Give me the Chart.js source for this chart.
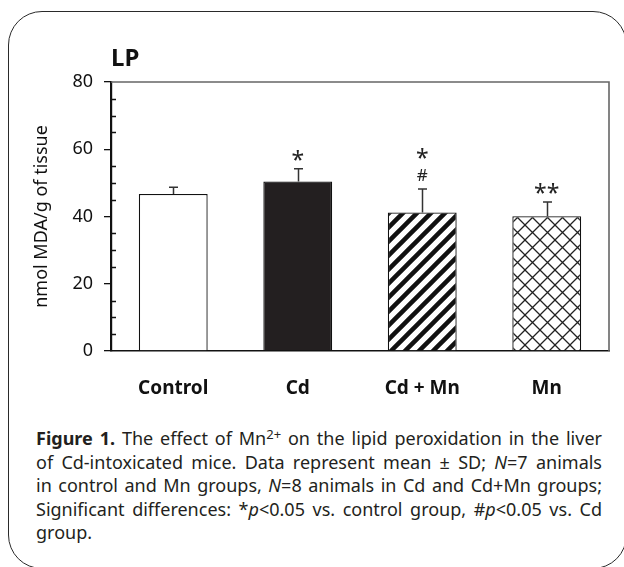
<!DOCTYPE html>
<html lang="en">
<head>
    <meta charset="UTF-8">
    <title>LP - lipid peroxidation</title>
    <script src="https://cdn.jsdelivr.net/npm/chart.js"></script>
    <style>
        body {
            margin: 0;
            width: 624px;
            height: 567px;
            overflow: hidden;
            background: #fff;
            position: relative;
        }
        .frame {
            position: absolute;
            left: 8px;
            top: 11px;
            right: -3px;
            bottom: -2px;
            border: 1.4px solid #2a2a2a;
            border-radius: 34px;
        }
        .chart-box {
            position: absolute;
            left: 0;
            top: 0;
            width: 624px;
            height: 420px;
        }
        .caption {
            position: absolute;
            left: 36px;
            top: 427px;
            width: 566px;
            font-family: 'Noto Sans', sans-serif;
            font-size: 18px;
            line-height: 23.6px;
            color: #231f20;
        }
        .caption div {
            text-align: justify;
            text-align-last: justify;
        }
        .caption div.last {
            text-align-last: left;
        }
        .caption sup {
            font-size: 13px;
            line-height: 0;
            vertical-align: 6px;
        }
    </style>
</head>
<body>
    <div class="frame"></div>
    <div class="chart-box">
        <canvas id="lpChart"></canvas>
    </div>
    <div class="caption">
        <div><b>Figure 1.</b> The effect of Mn<sup>2+</sup> on the lipid peroxidation in the liver</div>
        <div>of Cd-intoxicated mice. Data represent mean &plusmn; SD; <i>N</i>=7 animals</div>
        <div>in control and Mn groups, <i>N</i>=8 animals in Cd and Cd+Mn groups;</div>
        <div>Significant differences: *<i>p</i>&lt;0.05 vs. control group, #<i>p</i>&lt;0.05 vs. Cd</div>
        <div class="last">group.</div>
    </div>

    <script>
        // Data
        const groups = ['Control', 'Cd', 'Cd + Mn', 'Mn'];
        const meanMDA = [46.7, 50.4, 41.2, 40.1];
        const sdMDA = [2.0, 3.8, 7.0, 4.2];
        const starMarks = ['', '*', '*', '**'];
        const hashMarks = ['', '', '#', ''];
        const yTicks = [0, 20, 40, 60, 80];
        const chartTitle = 'LP';
        const yTitle = 'nmol MDA/g of tissue';

        // fill patterns
        function stripePattern() {
            const s = 14;
            const c = document.createElement('canvas');
            c.width = s; c.height = s;
            const g = c.getContext('2d');
            g.fillStyle = '#fff';
            g.fillRect(0, 0, s, s);
            g.strokeStyle = '#111';
            g.lineWidth = 4.5;
            g.beginPath();
            [0, s, 2 * s].forEach(k => {
                g.moveTo(-s, k + s);
                g.lineTo(2 * s, k - 2 * s);
            });
            g.stroke();
            return g.createPattern(c, 'repeat');
        }

        function crossPattern() {
            const s = 15;
            const c = document.createElement('canvas');
            c.width = s; c.height = s;
            const g = c.getContext('2d');
            g.fillStyle = '#fff';
            g.fillRect(0, 0, s, s);
            g.strokeStyle = '#222';
            g.lineWidth = 1.3;
            g.beginPath();
            g.moveTo(0, 0); g.lineTo(s, s);
            g.moveTo(0, s); g.lineTo(s, 0);
            g.stroke();
            return g.createPattern(c, 'repeat');
        }

        const ctx = document.getElementById('lpChart').getContext('2d');
        const fills = ['#ffffff', '#231f20', stripePattern(), crossPattern()];

        // frame, minor ticks, title, error bars, significance marks
        const extras = {
            id: 'extras',
            beforeDatasetsDraw(chart) {
                const { ctx, chartArea: a, scales: { y } } = chart;
                ctx.save();
                ctx.strokeStyle = '#666';
                ctx.lineWidth = 1.6;
                ctx.beginPath();
                ctx.moveTo(a.left, a.top);
                ctx.lineTo(a.right, a.top);
                ctx.lineTo(a.right, a.bottom);
                ctx.stroke();

                ctx.strokeStyle = '#111';
                ctx.lineWidth = 1.3;
                ctx.beginPath();
                for (let v = 5; v < y.max; v += 5) {
                    if (v % 20 === 0) continue;
                    const py = Math.round(y.getPixelForValue(v)) + 0.5;
                    ctx.moveTo(a.left, py);
                    ctx.lineTo(a.left + 5, py);
                }
                ctx.stroke();

                ctx.fillStyle = '#111';
                ctx.font = 'bold 24px "Noto Sans"';
                ctx.textAlign = 'left';
                ctx.textBaseline = 'alphabetic';
                ctx.fillText(chartTitle, a.left, 66);
                ctx.restore();
            },
            afterDatasetsDraw(chart) {
                const { ctx, scales: { y } } = chart;
                const meta = chart.getDatasetMeta(0);
                ctx.save();
                ctx.strokeStyle = '#333';
                ctx.lineWidth = 1.5;
                ctx.fillStyle = '#222';
                ctx.textAlign = 'center';
                ctx.textBaseline = 'alphabetic';
                meta.data.forEach((bar, i) => {
                    const x = Math.round(bar.x) + 0.5;
                    const yBase = y.getPixelForValue(meanMDA[i]);
                    const yTop = y.getPixelForValue(meanMDA[i] + sdMDA[i]);
                    ctx.beginPath();
                    ctx.moveTo(x, yBase);
                    ctx.lineTo(x, yTop);
                    ctx.moveTo(x - 4.5, yTop);
                    ctx.lineTo(x + 4.5, yTop);
                    ctx.stroke();

                    let base = yTop - 1;
                    if (hashMarks[i]) {
                        ctx.font = '17px "Noto Sans"';
                        ctx.fillText(hashMarks[i], bar.x, yTop - 8);
                        base = yTop - 23;
                    }
                    if (starMarks[i]) {
                        ctx.font = '23px "Noto Sans"';
                        ctx.fillText(starMarks[i], bar.x, base);
                    }
                });
                ctx.restore();
            }
        };

        new Chart(ctx, {
            type: 'bar',
            data: {
                labels: groups,
                datasets: [{
                    data: meanMDA,
                    backgroundColor: fills,
                    borderColor: '#111',
                    borderWidth: 1.3,
                    barPercentage: 0.553,
                    categoryPercentage: 1
                }]
            },
            options: {
                responsive: true,
                maintainAspectRatio: false,
                animation: false,
                layout: {
                    padding: { top: 82, right: 15, left: 0, bottom: 0 }
                },
                plugins: {
                    legend: { display: false },
                    tooltip: { enabled: false }
                },
                scales: {
                    x: {
                        grid: { display: false },
                        border: { color: '#111', width: 1.6 },
                        ticks: {
                            color: '#111',
                            padding: 18,
                            font: { family: 'Noto Sans', size: 19, weight: 'bold' }
                        },
                        afterFit(scale) { scale.height = 69; }
                    },
                    y: {
                        min: 0,
                        max: 80,
                        afterBuildTicks(scale) {
                            scale.ticks = yTicks.map(v => ({ value: v }));
                        },
                        grid: {
                            drawOnChartArea: false,
                            tickLength: 7,
                            color: '#111',
                            lineWidth: 1.3
                        },
                        border: { color: '#111', width: 2.2 },
                        ticks: {
                            color: '#111',
                            padding: 11,
                            font: { family: 'Noto Sans', size: 18 }
                        },
                        title: {
                            display: true,
                            text: yTitle,
                            color: '#111',
                            padding: { top: 31, bottom: 0 },
                            font: { family: 'Noto Sans', size: 18 }
                        },
                        afterFit(scale) { scale.width = 111; }
                    }
                }
            },
            plugins: [extras]
        });
    </script>
</body>
</html>
